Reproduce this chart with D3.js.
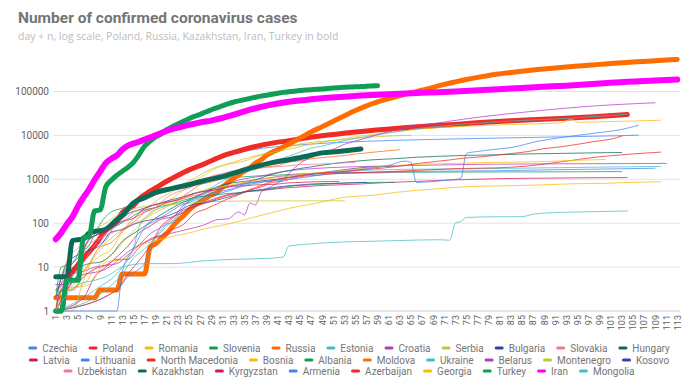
<!DOCTYPE html>
<html>
<head>
<meta charset="utf-8">
<script src="https://cdnjs.cloudflare.com/ajax/libs/d3/7.8.5/d3.min.js"></script>
<style>
  body { margin: 0; background: #fff; }
  svg text { font-family: Roboto, "Open Sans", Arial, sans-serif; }
</style>
</head>
<body>
<div id="chart"></div>
<script>
// values, [day, cases]
var czechia = [[1,3],[3,5],[6,19],[8,31],[10,41],[12,116],[14,214],[16,383],[18,522],[20,833],[23,1236],[26,1925],[30,3001],[36,4591],[46,6216],[56,7273],[69,8095],[86,8955],[102,9800],[106,10100]];
var poland = [[1,1],[2,1],[3,5],[5,11],[7,22],[8,31],[10,68],[12,111],[13,177],[15,251],[16,355],[18,536],[19,634],[21,901],[22,1051],[25,1638],[28,2311],[31,3383],[34,4413],[37,5575],[40,6674],[43,7582],[46,8742],[50,10169],[57,12640],[65,15366],[74,18257],[83,21631],[92,24395],[98,26561],[104,29788]];
var romania = [[1,1],[2,3],[6,4],[8,9],[10,15],[12,25],[14,49],[16,89],[18,158],[20,260],[22,367],[24,576],[26,906],[28,1292],[30,1815],[33,2460],[36,3183],[40,4057],[44,5202],[48,6633],[52,8067],[56,9710],[62,11978],[68,14499],[74,16002],[83,17712],[92,19400],[94,23500],[95,19900],[100,20479],[106,21404],[110,22165]];
var slovenia = [[1,1],[2,6],[4,12],[6,23],[7,31],[8,57],[9,96],[10,141],[11,181],[13,219],[15,275],[17,341],[19,442],[21,528],[24,684],[27,841],[30,997],[33,1091],[37,1188],[41,1248],[45,1317],[50,1353],[57,1408],[65,1449],[75,1466],[85,1473],[95,1485],[103,1500]];
var russia = [[1,2],[8,2],[9,3],[12,3],[13,7],[17,7],[18,28],[19,34],[20,45],[21,59],[22,83],[23,114],[24,147],[25,199],[26,253],[27,306],[28,367],[29,438],[30,495],[31,658],[32,840],[33,1036],[34,1264],[35,1534],[36,1836],[37,2337],[38,2777],[39,3548],[40,4149],[41,4731],[43,6343],[45,8672],[47,11917],[49,15770],[51,21102],[53,27938],[55,36793],[57,47121],[59,57999],[61,68622],[63,80949],[65,93558],[67,106498],[69,124054],[71,145268],[73,165929],[75,187859],[77,209688],[79,232243],[81,252245],[83,272043],[85,290678],[87,308705],[89,326448],[91,344481],[93,362342],[95,379051],[97,396575],[99,414878],[101,432277],[103,449834],[105,467673],[107,485253],[109,502436],[111,519458],[113,536484]];
var estonia = [[1,1],[6,2],[8,3],[13,10],[15,27],[16,79],[18,171],[20,225],[23,283],[26,352],[29,538],[33,715],[37,961],[42,1185],[47,1309],[54,1535],[65,1694],[74,1720],[89,1824],[110,1965]];
var croatia = [[1,1],[2,3],[3,5],[4,7],[6,8],[8,10],[10,11],[12,12],[14,19],[16,32],[18,57],[20,81],[22,128],[24,254],[26,382],[28,495],[30,657],[32,790],[34,963],[36,1079],[38,1182],[40,1343],[42,1495],[46,1704],[50,1832],[56,1950],[65,2062],[75,2176],[90,2244],[111,2300]];
var serbia = [[1,1],[4,1],[6,5],[8,18],[9,24],[10,35],[11,46],[12,57],[14,83],[16,135],[18,249],[20,384],[22,528],[24,785],[26,1060],[28,1476],[30,1908],[32,2200],[34,2447],[36,2867],[38,3630],[40,4054],[42,4873],[44,5994],[46,6630],[48,7114],[50,7483],[53,8042],[56,8724],[59,9362],[62,9791],[65,10032]];
var bulgaria = [[1,4],[3,4],[5,7],[6,23],[7,41],[8,51],[10,67],[12,94],[14,163],[16,201],[18,242],[20,293],[22,346],[24,400],[26,485],[28,549],[30,635],[32,685],[34,747],[36,846],[38,915],[40,975],[42,1024],[45,1247],[48,1363],[52,1594],[56,1829],[62,1990]];
var slovakia = [[1,1],[3,3],[5,7],[7,21],[9,44],[11,72],[13,105],[15,178],[17,204],[19,226],[21,292],[23,336],[25,400],[27,450],[29,534],[31,682],[33,715],[35,835],[37,977],[39,1045],[41,1161],[43,1244],[45,1325],[48,1373],[52,1396],[56,1403],[60,1413],[64,1455]];
var hungary = [[1,2],[3,4],[5,9],[7,12],[9,13],[11,19],[13,39],[15,58],[17,85],[19,131],[21,187],[23,261],[25,343],[27,447],[29,585],[31,744],[33,833],[35,895],[37,980],[39,1190],[41,1410],[43,1579],[45,1763],[47,1916],[49,2098],[51,2284],[53,2443],[55,2583],[58,2775],[62,2942],[66,3178],[70,3341],[75,3509],[80,3598],[86,3793],[92,3892],[98,4008],[103,4077]];
var latvia = [[1,1],[6,2],[8,6],[10,10],[12,17],[14,30],[16,60],[18,86],[20,124],[22,139],[24,197],[26,244],[28,305],[30,376],[32,446],[34,493],[36,533],[38,548],[40,589],[42,630],[44,657],[46,682],[48,712],[52,748],[56,784],[60,836],[66,896],[72,961],[80,1030],[90,1065],[98,1088],[104,1097]];
var lithuania = [[1,1],[12,3],[14,6],[16,9],[17,12],[18,25],[19,49],[20,69],[21,94],[22,105],[23,143],[24,179],[25,209],[26,274],[28,382],[30,460],[32,537],[34,649],[36,771],[38,843],[40,955],[42,1053],[44,1149],[46,1239],[48,1326],[52,1398],[56,1438],[62,1491],[70,1534],[80,1562],[90,1647],[100,1714],[109,1788]];
var northMacedonia = [[1,1],[12,3],[14,7],[16,14],[18,31],[20,85],[22,136],[24,177],[26,241],[28,285],[30,354],[32,430],[34,483],[36,570],[38,663],[40,854],[42,908],[44,1081],[46,1188],[48,1225],[50,1300],[54,1399],[58,1442],[62,1511],[68,1642],[74,1762],[80,1817],[86,2000],[92,2492],[98,3152],[104,3701],[110,4157]];
var bosnia = [[1,2],[3,3],[5,5],[7,11],[9,18],[11,25],[13,63],[15,95],[17,126],[19,176],[21,237],[23,323],[25,401],[27,533],[29,624],[31,674],[33,764],[35,860],[37,946],[39,1037],[41,1083],[43,1174],[45,1268],[47,1368],[49,1421],[52,1565],[56,1757],[60,1974],[66,2181],[72,2290],[80,2435],[88,2510],[94,2681],[100,2830]];
var albania = [[1,2],[2,10],[4,12],[6,38],[8,51],[10,70],[12,89],[14,123],[16,174],[18,212],[20,243],[22,277],[24,333],[26,383],[28,416],[30,446],[32,475],[34,494],[36,539],[38,570],[40,609],[42,663],[44,712],[46,736],[48,766],[50,782],[52,814],[54,832],[58,850],[62,856]];
var moldova = [[1,1],[3,3],[5,6],[7,12],[9,29],[11,36],[13,66],[15,125],[17,177],[19,231],[21,298],[23,353],[25,505],[27,752],[29,864],[31,1056],[33,1289],[35,1560],[37,1712],[39,1934],[41,2049],[43,2472],[45,2614],[47,2926],[49,3110],[51,3304],[53,3481],[55,3771],[57,3980],[59,4248],[61,4476],[63,4728]];
var ukraine = [[1,1],[10,3],[13,7],[15,16],[17,26],[19,47],[21,84],[23,156],[25,310],[27,418],[29,645],[31,897],[33,1225],[35,1462],[37,1668],[39,2203],[41,2777],[43,3372],[45,4161],[47,5106],[49,5710],[51,6592],[53,7647],[55,8617],[57,9410],[59,10406],[61,11411],[63,12331],[65,13691],[67,14710],[69,15648],[71,16425],[73,17330],[75,18291],[77,18876],[79,19706],[81,20580],[83,21245],[85,21905],[88,22811],[91,23672],[94,24823],[97,26514],[100,27856],[104,30506]];
var belarus = [[1,1],[5,6],[10,9],[15,27],[20,51],[24,69],[28,94],[30,120],[32,125],[34,180],[35,155],[36,290],[37,260],[38,500],[40,700],[42,1000],[44,1800],[47,3281],[50,4204],[53,6264],[56,8022],[60,11289],[64,14917],[71,20168],[78,26772],[85,33371],[92,40764],[99,47751],[106,53241],[109,55369]];
var montenegro = [[1,2],[3,14],[5,27],[7,52],[9,82],[11,123],[13,174],[15,214],[17,241],[19,255],[21,263],[23,272],[25,283],[27,300],[29,308],[31,315],[35,320],[40,322],[45,323],[53,324]];
var kosovo = [[1,2],[3,12],[5,19],[7,24],[9,31],[11,63],[13,71],[15,94],[17,112],[19,125],[21,145],[23,184],[25,250],[27,283],[29,312],[31,362],[33,423],[35,510],[37,562],[39,605],[41,668],[43,714],[45,746],[47,780],[49,799],[52,812],[57,856]];
var uzbekistan = [[1,1],[3,10],[5,16],[7,33],[9,46],[11,60],[13,75],[15,104],[17,173],[19,227],[21,390],[23,520],[25,624],[27,865],[29,1165],[31,1349],[33,1565],[35,1692],[37,1758],[39,1868],[41,1939],[43,2039],[45,2149],[48,2207],[51,2298],[55,2418]];
var kazakhstan = [[1,6],[3,6],[4,40],[6,44],[7,60],[10,73],[12,120],[13,150],[15,290],[17,380],[19,500],[22,620],[25,750],[28,950],[31,1150],[34,1500],[37,1950],[40,2400],[43,2800],[46,3300],[49,4000],[52,4300],[56,4900]];
var kyrgyzstan = [[1,3],[3,6],[5,14],[7,44],[9,58],[11,84],[13,111],[15,130],[17,216],[19,270],[21,298],[23,339],[25,430],[27,506],[29,554],[31,612],[33,695],[35,708],[37,746],[39,756],[41,778],[43,830],[45,848],[47,871],[49,885],[52,895]];
var armenia = [[1,1],[12,1],[13,8],[15,26],[17,78],[19,115],[21,160],[23,235],[26,329],[29,482],[32,571],[36,822],[41,937],[46,1111],[51,1401],[56,1677],[61,2066],[64,2600],[65,2400],[66,850],[68,870],[71,940],[74,1050],[75,3900],[77,4300],[80,4800],[83,5271],[88,7402],[93,9282],[98,11221],[103,13675],[106,17000]];
var azerbaijan = [[1,1],[2,3],[4,3],[6,6],[8,9],[10,11],[12,15],[14,15],[16,28],[18,44],[20,53],[22,72],[24,93],[26,165],[28,209],[30,273],[32,359],[34,443],[36,584],[38,717],[40,926],[42,1058],[44,1148],[46,1253],[48,1373],[50,1436],[52,1480],[54,1548],[56,1645],[58,1717],[60,1804],[62,1932],[64,2060],[66,2279],[68,2422],[70,2589],[72,2758],[74,2980],[76,3138],[78,3274],[80,3518],[83,3855],[86,4271],[89,4989],[92,5494],[95,6260],[98,7239],[101,8191],[103,9600]];
var georgia = [[1,1],[3,3],[7,4],[10,13],[13,15],[16,30],[19,40],[22,50],[25,60],[28,75],[31,90],[34,110],[37,140],[40,174],[43,218],[46,257],[49,306],[52,370],[55,410],[58,430],[62,500],[66,560],[70,610],[76,690],[82,710],[88,740],[94,790],[100,810],[106,860],[110,880]];
var turkey = [[1,1],[2,1],[3,5],[5,5],[6,47],[7,50],[8,191],[9,200],[10,670],[11,947],[12,1236],[13,1529],[14,1872],[15,2433],[16,3629],[17,5698],[18,7402],[19,9217],[20,10827],[21,13531],[22,15679],[23,18135],[24,20921],[25,23934],[26,27069],[27,30217],[28,34109],[29,38226],[30,42282],[31,47029],[32,52167],[33,56956],[34,61049],[35,65111],[36,69392],[37,74193],[38,78546],[39,82329],[40,86306],[41,90980],[42,95591],[43,98674],[44,101790],[45,104912],[46,107773],[47,110130],[48,112261],[49,114653],[50,117589],[51,120204],[52,122392],[53,124375],[54,126045],[55,127659],[56,129491],[57,131744],[58,133721],[59,135569]];
var iran = [[1,43],[2,61],[3,95],[4,139],[5,245],[6,388],[7,593],[8,978],[9,1501],[10,2336],[11,2922],[12,3513],[13,4747],[14,5823],[15,6566],[16,7161],[17,8042],[18,9000],[19,10075],[20,11364],[21,12729],[22,13938],[23,14991],[24,16169],[25,17361],[26,18407],[27,19644],[29,21638],[32,27017],[35,35408],[38,44605],[41,53183],[44,60500],[47,66220],[50,71686],[53,76389],[56,80868],[59,84802],[62,88194],[65,91472],[68,94640],[73,99970],[78,107603],[83,116635],[88,126949],[93,135701],[99,151466],[104,167156],[109,177938],[113,187427]];
var mongolia = [[1,1],[5,4],[8,5],[10,6],[13,10],[17,12],[22,12],[28,14],[33,15],[40,16],[42,17],[43,30],[46,33],[50,36],[55,38],[62,40],[70,42],[72,41],[73,100],[74,110],[75,135],[80,140],[85,141],[87,160],[89,170],[95,180],[100,185],[104,190]];

var countries = ["Czechia","Poland","Romania","Slovenia","Russia","Estonia","Croatia","Serbia","Bulgaria","Slovakia","Hungary",
  "Latvia","Lithuania","North Macedonia","Bosnia","Albania","Moldova","Ukraine","Belarus","Montenegro","Kosovo",
  "Uzbekistan","Kazakhstan","Kyrgyzstan","Armenia","Azerbaijan","Georgia","Turkey","Iran","Mongolia"];
var seriesValues = [czechia, poland, romania, slovenia, russia, estonia, croatia, serbia, bulgaria, slovakia, hungary,
  latvia, lithuania, northMacedonia, bosnia, albania, moldova, ukraine, belarus, montenegro, kosovo,
  uzbekistan, kazakhstan, kyrgyzstan, armenia, azerbaijan, georgia, turkey, iran, mongolia];
var boldCountries = ["Poland","Russia","Kazakhstan","Iran","Turkey"];
var yTicks = [1, 10, 100, 1000, 10000, 100000];
var xTicks = d3.range(1, 114, 2);

var palette = ["#4285f4","#ee2b24","#fbbc04","#0f9d58","#ff6d01","#46bdc6","#b23cc6","#c2c735","#3b3db0","#f2769c","#0b6b57","#d3195c"];
var colorOf = function(name, i){ return name === "Iran" ? "#ff00ff" : palette[i % palette.length]; };

var width = 699, height = 392;
var svg = d3.select("#chart").append("svg").attr("width", width).attr("height", height);

// title
svg.append("text").attr("x", 18).attr("y", 23)
   .attr("font-size", 15.5).attr("font-weight", "bold").attr("fill", "#757575")
   .text("Number of confirmed coronavirus cases");
svg.append("text").attr("x", 18).attr("y", 40)
   .attr("font-size", 10.5).attr("fill", "#bdbdbd").style("font-family", "'Open Sans', Arial, sans-serif")
   .text("day + n, log scale, Poland, Russia, Kazakhstan, Iran, Turkey in bold");

var x = d3.scaleLinear().domain([0.5, 113.5]).range([53, 680]);
var y = d3.scaleLog().domain([1, 100000]).range([311, 91.5]);

// grid
var grid = svg.append("g");
grid.selectAll("line").data(yTicks).enter().append("line")
    .attr("x1", 53).attr("x2", 680)
    .attr("y1", function(d){ return y(d); }).attr("y2", function(d){ return y(d); })
    .attr("stroke", function(d){ return d === 1 ? "#cccccc" : "#e3e3e3"; })
    .attr("stroke-width", 1);

var yAxis = d3.axisLeft(y).tickValues(yTicks).tickFormat(d3.format("d")).tickSize(0).tickPadding(4);
svg.append("g").attr("transform", "translate(53,0)").call(yAxis)
   .call(function(g){ g.select(".domain").remove(); })
   .selectAll("text").attr("font-size", 10).attr("fill", "#5f5f5f").style("font-family", "Roboto, Arial, sans-serif");

var xAxis = d3.axisBottom(x).tickValues(xTicks).tickSize(0).tickPadding(0);
svg.append("g").attr("transform", "translate(0,311)").call(xAxis)
   .call(function(g){ g.select(".domain").remove(); })
   .selectAll("text")
   .attr("font-size", 9).attr("fill", "#5f5f5f").style("font-family", "Roboto, Arial, sans-serif")
   .attr("text-anchor", "end").attr("transform", "rotate(-90)")
   .attr("x", -4).attr("y", 0).attr("dy", "0.33em");

// lines
var lineGenerator = d3.line()
    .x(function(d){ return x(d[0]); })
    .y(function(d){ return y(d[1]); })
    .curve(d3.curveMonotoneX);

var lines = svg.append("g").attr("class", "g-lines");
countries.forEach(function(name, i){
  var bold = boldCountries.indexOf(name) >= 0;
  lines.append("path")
      .attr("d", lineGenerator(seriesValues[i]))
      .attr("fill", "none")
      .attr("stroke", colorOf(name, i))
      .attr("stroke-width", bold ? (name === "Iran" ? 6 : 5) : 1)
      .attr("stroke-opacity", bold ? 1 : 0.75)
      .attr("stroke-linejoin", "round")
      .attr("stroke-linecap", "round");
});

// legend, three centred rows
var legendRows = [countries.slice(0, 11), countries.slice(11, 21), countries.slice(21)];
var legendY = [348, 360, 371];
var itemGap = 11;
legendRows.forEach(function(row, r){
  var g = svg.append("g");
  var pos = 0;
  row.forEach(function(name){
    var i = countries.indexOf(name);
    g.append("rect").attr("x", pos).attr("y", legendY[r] - 1.5)
     .attr("width", 9).attr("height", 3).attr("rx", 1.5)
     .attr("fill", colorOf(name, i));
    var t = g.append("text").attr("x", pos + 14).attr("y", legendY[r]).attr("dy", "0.35em")
     .attr("font-size", 10).attr("fill", "#757575").text(name);
    pos += 14 + t.node().getComputedTextLength() + itemGap;
  });
  pos -= itemGap;
  g.attr("transform", "translate(" + (349 - pos / 2) + ",0)");
});
</script>
</body>
</html>
